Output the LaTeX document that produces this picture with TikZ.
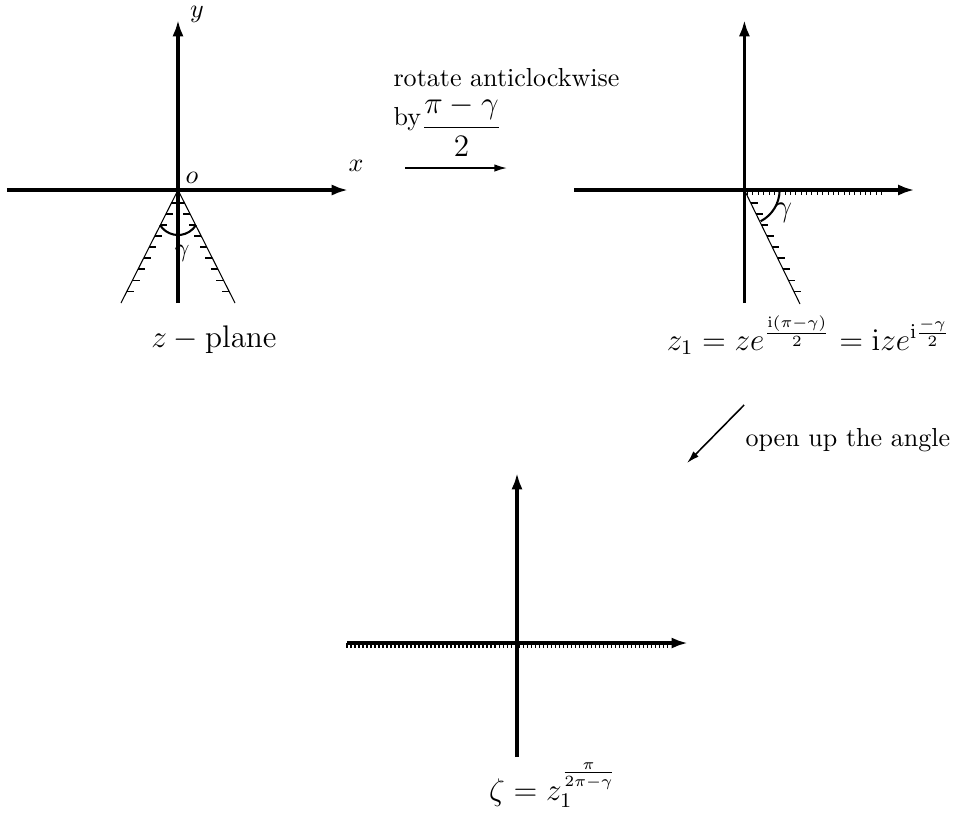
\documentclass[tikz,border=0pt]{standalone}
\usepackage{amsmath}
\usetikzlibrary{arrows.meta}
\tikzset{
  axis/.style={very thick,-{Latex[length=2.2mm,width=1.5mm]}},
  wall/.style={thin},
  angmark/.style={thick},
  maparrow/.style={semithick,-{Latex[length=1.7mm,width=1mm]}},
  lbl/.style={inner sep=0pt}
}
\begin{document}
\begin{tikzpicture}[scale=0.54]
    \useasboundingbox (-4.45,-15.6) rectangle (19.45,4.75);
    % z-plane
    \draw[axis] (-4.275,0) -- (4.25,0);
    \draw[axis] (0,-2.83) -- (0,4.25);
    \draw[wall] (0,0) -- (-1.425,-2.825);
    \draw[wall] (0,0) -- (1.425,-2.825);
    \foreach \t in {0.325,0.6,...,2.6}
      {\draw[wall] (-0.5044*\t,-\t) -- ++(0.175,0);
       \draw[wall] (0.5044*\t,-\t) -- ++(-0.175,0);}
    \draw[angmark] (-0.449,-0.876) arc (-148:-32:0.53);
    \node[lbl] (ylab) at (0.475,4.4) {$y$};
    \node[lbl] (xlab) at (4.45,0.6) {$x$};
    \node[lbl] (olab) at (0.35,0.3) {$o$};
    \node[lbl] (gam1) at (0.1,-1.575) {$\gamma$};
    \node[lbl,anchor=base] (zplane) at (0.9,-3.925) {\large $z-\mathrm{plane}$};
    % rotation
    \coordinate (rotS) at (5.675,0.55);
    \coordinate (rotE) at (8.225,0.55);
    \draw[maparrow] (rotS) -- (rotE);
    \node[lbl,anchor=base west] (rottxt) at (5.375,2.6) {rotate anticlockwise};
    \node[lbl,anchor=base west] (bytxt) at (5.375,1.625) {by};
    \node[lbl] (byfrac) at (7.09,1.6) {\large $\dfrac{\pi-\gamma}{2}$};
    % z1-plane
    \begin{scope}[shift={(14.16,0)}]
      \draw[axis] (-4.25,0) -- (4.25,0);
      \draw[axis] (0,-2.83) -- (0,4.25);
      \draw[wall] (0,0) -- (1.39,-2.85);
      \foreach \i in {0,...,25}
        \draw[wall] (0.08+0.134*\i,0) -- ++(0,-0.125);
      \foreach \t in {0.325,0.6,...,2.6}
        \draw[wall] (0.4877*\t,-\t) -- ++(0.175,0);
      \draw[angmark] (0.88,0) arc (0:-62.5:0.88);
      \node[lbl] (gam2) at (0.975,-0.575) {\large $\gamma$};
      \node[lbl,anchor=base] (zonemap) at (1.6,-4.0)
        {\large $z_1=ze^{\frac{\mathrm{i}(\pi-\gamma)}{2}}=\mathrm{i}ze^{\mathrm{i}\frac{-\gamma}{2}}$};
    \end{scope}
    % opening
    \coordinate (openS) at (14.15,-5.375);
    \coordinate (openE) at (12.725,-6.825);
    \draw[maparrow] (openS) -- (openE);
    \node[lbl,anchor=base west] (opentxt) at (14.175,-6.4) {open up the angle};
    % zeta-plane
    \begin{scope}[shift={(8.475,-11.325)}]
      \draw[axis] (-4.25,0) -- (4.27,0);
      \draw[axis] (0,-2.85) -- (0,4.25);
      \foreach \i in {0,...,80}
        \draw[wall] (-4.25+0.1*\i,0) -- ++(0,-0.125);
      \node[lbl,anchor=base] (zetamap) at (0.9,-3.925)
        {\large $\zeta=z_1^{\frac{\pi}{2\pi-\gamma}}$};
    \end{scope}
\end{tikzpicture}
\end{document}
